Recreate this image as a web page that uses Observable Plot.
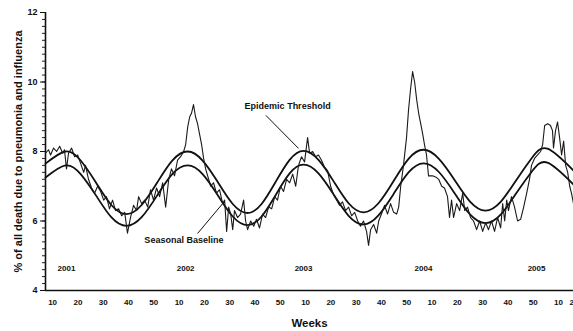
<!DOCTYPE html>
<html>
<head>
<meta charset="utf-8">
<script src="https://cdn.jsdelivr.net/npm/d3@7"></script>
<script src="https://cdn.jsdelivr.net/npm/@observablehq/plot@0.6"></script>
<style>
  html, body { margin: 0; padding: 0; background: #fff; }
  #chart svg { display: block; }
</style>
</head>
<body>
<div id="chart"></div>
<script>
// ---- Data (week index runs continuously across years) ----
const obsWeek = [7.2,8.4,9.2,10.4,11.6,12.8,14.0,14.7,15.5,16.3,17.5,18.7,19.9,21.1,22.3,23.0,24.2,25.4,26.6,27.8,29.0,30.2,31.3,32.5,33.7,34.9,36.1,37.3,38.5,39.6,40.8,42.0,43.2,44.0,45.2,46.4,47.6,48.7,49.9,51.1,52.3,53.5,54.7,55.9,57.0,58.2,59.4,60.6,61.8,62.6,63.4,64.2,64.9,65.7,66.5,67.3,68.1,68.9,69.7,70.5,71.3,72.5,73.6,74.8,76.0,77.2,78.0,78.8,79.6,80.4,81.2,81.9,83.1,84.3,85.5,86.3,87.1,88.3,89.5,90.6,91.8,93.0,94.2,95.4,96.6,97.8,98.9,100.1,101.3,102.5,103.7,104.9,106.1,107.2,108.4,109.6,110.8,111.6,112.8,114.0,115.1,116.3,117.5,118.7,119.9,121.1,122.3,123.4,124.6,125.8,127.0,128.2,129.4,130.6,131.7,132.9,134.1,134.9,135.7,136.9,138.1,138.9,140.0,141.2,142.4,143.6,144.8,146.0,146.8,147.6,148.7,149.9,150.7,151.5,152.3,153.1,153.9,154.7,155.5,156.3,157.0,157.8,158.6,160.2,161.8,162.6,163.8,164.9,166.1,166.9,167.7,168.5,169.7,170.9,172.1,172.9,174.0,175.2,176.4,177.6,178.8,180.0,181.2,182.3,183.5,184.7,185.9,187.1,187.9,188.7,189.5,190.2,191.4,192.6,193.8,195.0,196.2,197.4,198.5,199.3,200.5,201.7,202.9,203.7,204.5,205.7,206.8,207.6,208.0,208.8,209.6,210.4,211.2,212.0,212.8,213.6,214.4,215.1,215.9];
const obsPct = [7.95,8.05,7.9,8.1,8.0,8.15,7.95,8.05,7.5,7.95,8.1,7.85,7.9,7.65,7.4,7.6,7.2,6.95,6.8,7.0,6.85,6.6,6.7,6.35,6.6,6.3,6.35,6.15,6.25,5.65,6.1,6.45,6.3,6.7,6.5,6.6,6.4,6.9,6.6,6.95,6.7,7.1,6.4,7.2,7.5,7.3,7.75,7.85,8.0,8.2,8.7,9.0,9.1,9.35,9.0,8.8,8.5,8.2,7.8,7.5,7.3,7.0,7.1,6.8,6.9,6.5,6.6,5.7,6.4,6.2,5.75,6.3,6.1,6.2,6.6,6.0,5.75,6.0,5.85,6.05,5.8,6.2,6.1,6.4,6.35,6.7,6.6,7.0,6.85,7.2,7.1,7.35,7.0,7.6,7.85,7.7,8.4,7.95,8.0,7.85,7.9,7.75,7.55,7.45,7.0,6.75,6.6,6.45,6.55,6.3,6.4,6.15,6.25,6.0,5.85,6.0,5.7,5.3,5.75,5.9,5.65,6.0,6.2,6.45,6.2,6.5,6.25,6.2,6.4,7.0,7.6,8.4,9.2,9.8,10.3,10.0,9.5,9.1,8.8,8.5,8.2,7.9,7.3,7.3,7.25,7.2,7.0,6.95,6.7,6.1,6.6,6.1,6.5,6.3,6.8,6.3,6.4,6.1,6.0,5.75,6.0,5.7,5.95,5.75,6.0,5.7,6.1,5.8,6.5,6.0,6.6,6.3,6.7,6.4,6.0,6.05,6.4,6.8,7.2,7.6,7.8,7.9,8.0,8.2,8.75,8.8,8.75,8.6,8.1,8.6,8.85,8.4,7.9,8.3,7.6,7.4,7.0,6.8,6.5];

const curveWeek = [7.2,15.1,21.1,27.2,33.2,39.2,45.2,51.3,57.3,63.4,69.3,75.3,81.2,87.1,92.6,98.2,103.7,109.2,115.1,121.1,127.0,132.9,138.8,144.8,150.7,156.6,162.7,168.9,175.0,181.1,187.2,193.4,199.5,205.6,215.9];
const thresholdPct = [7.65,8.0,7.74,7.1,6.46,6.2,6.46,7.1,7.74,8.0,7.74,7.12,6.49,6.23,6.49,7.13,7.76,8.02,7.76,7.14,6.51,6.25,6.51,7.15,7.79,8.05,7.79,7.18,6.56,6.3,6.56,7.19,7.82,8.08,7.45];
const baselinePct  = [7.25,7.6,7.35,6.73,6.11,5.86,6.11,6.73,7.35,7.6,7.35,6.74,6.13,5.88,6.13,6.75,7.37,7.62,7.37,6.76,6.15,5.9,6.16,6.78,7.40,7.66,7.41,6.8,6.19,5.94,6.19,6.81,7.43,7.68,7.05];

const xTickWeeks  = [10,20,30,40,50,60,70,80,90,100,110,120,130,140,150,160,170,180,190,200,210,215.2];
const xTickLabels = ["10","20","30","40","50","10","20","30","40","50","10","20","30","40","50","10","20","30","40","50","10","2"];
const yTicks = [4,6,8,10,12];
const yMinorTicks = d3.range(4, 12.001, 0.2);

const yearLabels = ["2001","2002","2003","2004","2005"];
const yearWeeks  = [15.5,62.6,109.2,156.6,201.3];
const yearPct    = [4.63,4.63,4.63,4.63,4.63];

const annText  = ["Epidemic Threshold","Seasonal Baseline"];
const annWeek  = [102.9,61.9];
const annPct   = [9.32,5.44];
const ptrWeek1 = [94.3,67.3];
const ptrPct1  = [9.04,5.64];
const ptrWeek2 = [107.2,77.2];
const ptrPct2  = [8.09,6.5];

const xDomain = [7.2, 215.9];

// ---- Tables ----
const obs = obsWeek.map((w,i) => ({w, v: obsPct[i]}));
const thr = curveWeek.map((w,i) => ({w, v: thresholdPct[i]}));
const base = curveWeek.map((w,i) => ({w, v: baselinePct[i]}));
const years = yearLabels.map((t,i) => ({t, w: yearWeeks[i], v: yearPct[i]}));
const anns = annText.map((t,i) => ({t, w: annWeek[i], v: annPct[i], w1: ptrWeek1[i], v1: ptrPct1[i], w2: ptrWeek2[i], v2: ptrPct2[i]}));

const font = "'Liberation Sans', Arial, sans-serif";

const chart = Plot.plot({
  width: 573,
  height: 331,
  marginLeft: 45,
  marginRight: 0,
  marginTop: 12,
  marginBottom: 41,
  style: {fontFamily: font, background: "#fff", color: "#111"},
  x: {domain: xDomain},
  y: {domain: [4, 12]},
  marks: [
    Plot.axisY({ticks: yMinorTicks, tickSize: 3, tickFormat: () => "", label: null, stroke: "#222"}),
    Plot.axisY({ticks: yTicks, tickSize: 5, tickPadding: 3, fontSize: 9, fontWeight: "bold", label: null}),
    Plot.axisY({ticks: [8], tickSize: 0, tickFormat: () => "", label: "% of all death due to pneumonia and influenza",
      labelAnchor: "center", labelArrow: "none", labelOffset: 31, fontSize: 11, fontWeight: "bold"}),
    Plot.axisX({ticks: xTickWeeks, tickSize: 0, tickPadding: 9, fontSize: 8, fontWeight: "bold",
      tickFormat: (d) => xTickLabels[xTickWeeks.indexOf(d)], label: null}),
    Plot.axisX({ticks: [100], tickSize: 0, tickFormat: () => "", label: "Weeks", labelAnchor: "center",
      labelArrow: "none", labelOffset: 36, fontSize: 11.5, fontWeight: "bold"}),
    Plot.ruleY([4], {stroke: "#111", strokeWidth: 1.6}),
    Plot.ruleX([xDomain[0]], {stroke: "#111", strokeWidth: 1.6}),
    Plot.line(thr, {x: "w", y: "v", curve: "natural", stroke: "#111", strokeWidth: 1.8}),
    Plot.line(base, {x: "w", y: "v", curve: "natural", stroke: "#111", strokeWidth: 1.8}),
    Plot.line(obs, {x: "w", y: "v", stroke: "#1a1a1a", strokeWidth: 1.1}),
    Plot.text(years, {x: "w", y: "v", text: "t", fontSize: 8, fontWeight: "bold", fill: "#111"}),
    Plot.link(anns, {x1: "w1", y1: "v1", x2: "w2", y2: "v2", stroke: "#111", strokeWidth: 1}),
    Plot.text(anns, {x: "w", y: "v", text: "t", fontSize: 9, fill: "#111", fontWeight: 600})
  ]
});
document.getElementById("chart").appendChild(chart);
</script>
</body>
</html>
